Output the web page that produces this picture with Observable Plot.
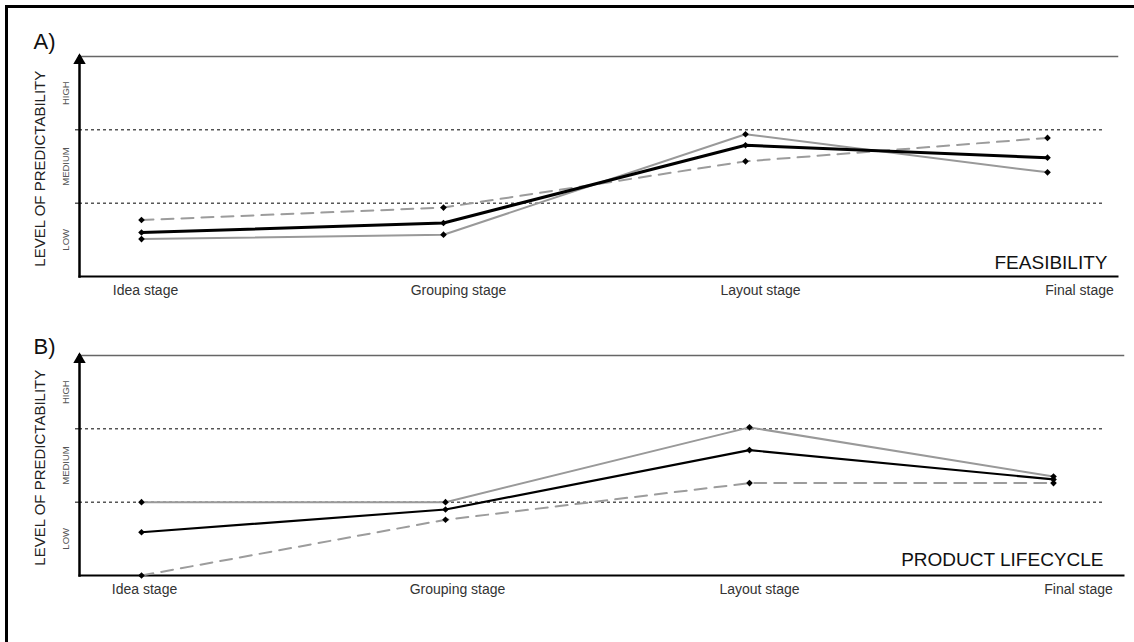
<!DOCTYPE html>
<html>
<head>
<meta charset="utf-8">
<script src="https://cdn.jsdelivr.net/npm/d3@7"></script>
<script src="https://cdn.jsdelivr.net/npm/@observablehq/plot@0.6"></script>
<style>
  html, body { margin: 0; padding: 0; background: #fff; }
  #wrap { position: relative; width: 1134px; height: 642px; overflow: hidden; background: #fff;
          font-family: "Liberation Sans", Arial, Helvetica, sans-serif; }
  #border { position: absolute; left: 5px; top: 5px; right: -10px; bottom: -10px;
            border-left: 3px solid #000; border-top: 3px solid #000; pointer-events: none; }
  .panel { position: absolute; left: 0; }
  .panel svg { display: block; }
</style>
</head>
<body>
<div id="wrap">
  <div id="panelA" class="panel" style="top:0px"></div>
  <div id="panelB" class="panel" style="top:300px"></div>
  <div id="border"></div>
</div>
<script>
// ---- data ----
const stages = ["Idea stage", "Grouping stage", "Layout stage", "Final stage"];
const seriesNames = ["Series 1", "Series 2", "Series 3"]; // black, gray solid, gray dashed
const levelLabels = ["LOW", "MEDIUM", "HIGH"];
const levelMids = [0.5, 1.5, 2.5];
const levelBounds = [1, 2];

// Panel A: FEASIBILITY
const feasibilityBlack  = [0.60, 0.73, 1.79, 1.62];
const feasibilityGray   = [0.51, 0.57, 1.94, 1.42];
const feasibilityDashed = [0.77, 0.94, 1.57, 1.89];

// Panel B: PRODUCT LIFECYCLE
const lifecycleBlack  = [0.59, 0.90, 1.71, 1.31];
const lifecycleGray   = [1.00, 1.00, 2.02, 1.35];
const lifecycleDashed = [0.00, 0.76, 1.26, 1.26];

function toRows(black, gray, dashed) {
  const rows = [];
  [black, gray, dashed].forEach((vals, si) => {
    vals.forEach((v, i) => rows.push({ series: seriesNames[si], stage: stages[i], value: v }));
  });
  return rows;
}

const FONT = '"Liberation Sans", Arial, Helvetica, sans-serif';

function panel(o) {
  const rows = o.rows;
  const bySeries = (s) => rows.filter(d => d.series === s);
  return Plot.plot({
    width: 1134,
    height: o.height,
    marginLeft: 79,
    marginRight: o.marginRight,
    marginTop: o.marginTop,
    marginBottom: o.marginBottom,
    style: { fontFamily: FONT, background: "transparent", overflow: "visible" },
    x: { type: "point", domain: stages, padding: 0, insetLeft: o.insetLeft, insetRight: o.insetRight, axis: null },
    y: { domain: [0, 3], axis: null },
    marks: [
      Plot.ruleY(levelBounds, { stroke: "#000", strokeWidth: 1, strokeDasharray: "3,3", insetRight: o.ruleInsetRight }),
      Plot.frame({ anchor: "top", stroke: "#666", strokeWidth: 1.5 }),
      Plot.frame({ anchor: "bottom", stroke: "#000", strokeWidth: 2 }),
      Plot.frame({ anchor: "left", stroke: "#000", strokeWidth: 2.5 }),
      Plot.axisY(levelBounds, { tickSize: 4, tickFormat: () => "", label: null, stroke: "#000" }),
      Plot.dot([3], { y: d => d, frameAnchor: "left", symbol: "triangle", fill: "#000", r: 4.6, dy: 4 }),
      Plot.line(bySeries(seriesNames[2]), { x: "stage", y: "value", stroke: "#9c9c9c", strokeWidth: 2, strokeDasharray: "12,8" }),
      Plot.line(bySeries(seriesNames[1]), { x: "stage", y: "value", stroke: "#999", strokeWidth: 2 }),
      Plot.line(bySeries(seriesNames[0]), { x: "stage", y: "value", stroke: "#000", strokeWidth: o.blackWidth }),
      Plot.dot(rows, { x: "stage", y: "value", symbol: "diamond2", fill: "#000", r: 3 }),
      ...stages.map((s, i) => Plot.text([s], {
        x: d => d, frameAnchor: "bottom", lineAnchor: "top", dy: 9, dx: o.labelShifts[i],
        fontSize: 14, fill: "#333"
      })),
      Plot.text(levelLabels.map((t, i) => ({ t, v: levelMids[i] })), {
        text: "t", y: "v", frameAnchor: "left", textAnchor: "middle", lineAnchor: "middle",
        rotate: -90, dx: -14, fontSize: 9.5, fill: "#555"
      }),
      Plot.text([{ t: "LEVEL OF PREDICTABILITY", v: 1.47 }], {
        text: "t", y: "v", frameAnchor: "left", textAnchor: "middle", lineAnchor: "middle",
        rotate: -90, dx: -39, fontSize: 15, fill: "#222"
      }),
      Plot.text([o.letter], {
        frameAnchor: "top-left", textAnchor: "start", lineAnchor: "bottom", dx: -46, dy: o.letterDy,
        fontSize: 22, fill: "#111"
      }),
      Plot.text([o.name], {
        frameAnchor: "bottom-right", textAnchor: "end", lineAnchor: "bottom", dx: o.nameDx, dy: o.nameDy,
        fontSize: 19, fill: "#111"
      })
    ]
  });
}

document.getElementById("panelA").appendChild(panel({
  rows: toRows(feasibilityBlack, feasibilityGray, feasibilityDashed),
  letter: "A)", name: "FEASIBILITY",
  height: 300, marginTop: 56, marginBottom: 24, marginRight: 17,
  insetLeft: 61, insetRight: 70, ruleInsetRight: 14,
  labelShifts: [4, 15, 15, 32], blackWidth: 3,
  letterDy: -8, nameDx: -10, nameDy: -8
}));

document.getElementById("panelB").appendChild(panel({
  rows: toRows(lifecycleBlack, lifecycleGray, lifecycleDashed),
  letter: "B)", name: "PRODUCT LIFECYCLE",
  height: 342, marginTop: 55, marginBottom: 67, marginRight: 11,
  insetLeft: 62, insetRight: 70, ruleInsetRight: 20,
  labelShifts: [3, 12, 10, 25], blackWidth: 2.2,
  letterDy: -2, nameDx: -20, nameDy: -10
}));
</script>
</body>
</html>
